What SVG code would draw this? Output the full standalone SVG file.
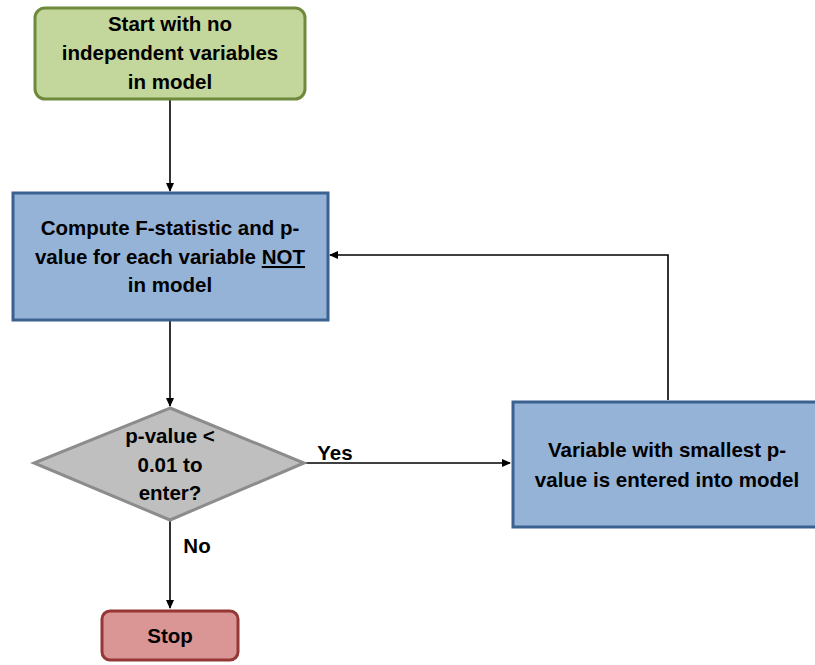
<svg xmlns="http://www.w3.org/2000/svg" width="815" height="665" viewBox="0 0 815 665">
<style>
text{font-family:"Liberation Sans",Arial,sans-serif;font-weight:bold;font-size:20.5px;fill:#000;text-anchor:middle}
.green{fill:#c3d69b;stroke:#6f8a3c;stroke-width:3}
.blue{fill:#95b3d7;stroke:#3a6190;stroke-width:3}
.gray{fill:#bfbfbf;stroke:#8c8c8c;stroke-width:3}
.red{fill:#d99694;stroke:#953735;stroke-width:3}
.conn{fill:none;stroke:#000;stroke-width:1.6}
</style>
<defs>
<marker id="arr" markerWidth="10" markerHeight="10" refX="8" refY="5" orient="auto" markerUnits="userSpaceOnUse">
<path d="M0,1 L9,5 L0,9 Z" fill="#000"/>
</marker>
</defs>
<rect width="815" height="665" fill="#fff"/>
<g id="connectors">
<line class="conn" x1="170" y1="100" x2="170" y2="191" marker-end="url(#arr)"/>
<line class="conn" x1="170" y1="321" x2="170" y2="406" marker-end="url(#arr)"/>
<line class="conn" x1="304" y1="463" x2="510" y2="463" marker-end="url(#arr)"/>
<polyline class="conn" points="668,400 668,255 330,255" marker-end="url(#arr)"/>
<line class="conn" x1="170" y1="521" x2="170" y2="608" marker-end="url(#arr)"/>
<text x="335" y="460">Yes</text>
<text x="197" y="553">No</text>
</g>
<g id="start">
<rect class="green" x="35" y="8" width="270" height="91" rx="10"/>
<text x="170" y="31">Start with no</text>
<text x="170" y="60">independent variables</text>
<text x="170" y="89">in model</text>
</g>
<g id="compute">
<rect class="blue" x="13" y="193" width="315" height="127"/>
<text x="170" y="235">Compute F-statistic and p-</text>
<text x="170" y="264">value for each variable <tspan text-decoration="underline">NOT</tspan></text>
<text x="170" y="292">in model</text>
</g>
<g id="decision">
<polygon class="gray" points="170,408 304,463 170,520 34,463"/>
<text x="170" y="443">p-value &lt;</text>
<text x="170" y="472">0.01 to</text>
<text x="170" y="500">enter?</text>
</g>
<g id="enter">
<rect class="blue" x="513" y="402" width="305" height="125"/>
<text x="667" y="457">Variable with smallest p-</text>
<text x="667" y="487">value is entered into model</text>
</g>
<g id="stop">
<rect class="red" x="102" y="611" width="136" height="49" rx="8"/>
<text x="170" y="643">Stop</text>
</g>
</svg>
